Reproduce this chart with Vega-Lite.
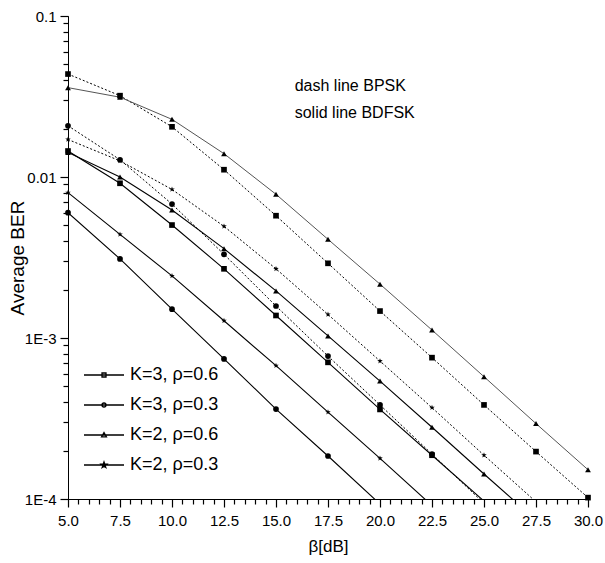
{
  "$schema": "https://vega.github.io/schema/vega-lite/v6.json",
  "width": 520,
  "height": 483,
  "autosize": "none",
  "padding": {"left": 68, "top": 16, "right": 17, "bottom": 64},
  "background": "white",
  "config": {
    "font": "Liberation Sans",
    "view": {"stroke": null},
    "axis": {"domainColor": "black", "tickColor": "black", "labelColor": "black", "titleColor": "black", "grid": false, "labelFont": "Liberation Sans", "titleFont": "Liberation Sans", "titleFontWeight": "normal"}
  },
  "data": {"values": [
    {"beta": 5, "ber": 0.0436, "series": "K=3, ρ=0.6", "mod": "BPSK"},
    {"beta": 7.5, "ber": 0.032, "series": "K=3, ρ=0.6", "mod": "BPSK"},
    {"beta": 10, "ber": 0.0205, "series": "K=3, ρ=0.6", "mod": "BPSK"},
    {"beta": 12.5, "ber": 0.0111, "series": "K=3, ρ=0.6", "mod": "BPSK"},
    {"beta": 15, "ber": 0.00575, "series": "K=3, ρ=0.6", "mod": "BPSK"},
    {"beta": 17.5, "ber": 0.00291, "series": "K=3, ρ=0.6", "mod": "BPSK"},
    {"beta": 20, "ber": 0.00147, "series": "K=3, ρ=0.6", "mod": "BPSK"},
    {"beta": 22.5, "ber": 0.000755, "series": "K=3, ρ=0.6", "mod": "BPSK"},
    {"beta": 25, "ber": 0.000384, "series": "K=3, ρ=0.6", "mod": "BPSK"},
    {"beta": 27.5, "ber": 0.000197, "series": "K=3, ρ=0.6", "mod": "BPSK"},
    {"beta": 30, "ber": 0.000102, "series": "K=3, ρ=0.6", "mod": "BPSK"},

    {"beta": 5, "ber": 0.0359, "series": "K=2, ρ=0.6", "mod": "BPSK"},
    {"beta": 7.5, "ber": 0.0313, "series": "K=2, ρ=0.6", "mod": "BPSK"},
    {"beta": 10, "ber": 0.0228, "series": "K=2, ρ=0.6", "mod": "BPSK"},
    {"beta": 12.5, "ber": 0.01396, "series": "K=2, ρ=0.6", "mod": "BPSK"},
    {"beta": 15, "ber": 0.00781, "series": "K=2, ρ=0.6", "mod": "BPSK"},
    {"beta": 17.5, "ber": 0.0041, "series": "K=2, ρ=0.6", "mod": "BPSK"},
    {"beta": 20, "ber": 0.00216, "series": "K=2, ρ=0.6", "mod": "BPSK"},
    {"beta": 22.5, "ber": 0.00112, "series": "K=2, ρ=0.6", "mod": "BPSK"},
    {"beta": 25, "ber": 0.000575, "series": "K=2, ρ=0.6", "mod": "BPSK"},
    {"beta": 27.5, "ber": 0.000294, "series": "K=2, ρ=0.6", "mod": "BPSK"},
    {"beta": 30, "ber": 0.000152, "series": "K=2, ρ=0.6", "mod": "BPSK"},

    {"beta": 5, "ber": 0.0208, "series": "K=3, ρ=0.3", "mod": "BPSK"},
    {"beta": 7.5, "ber": 0.0128, "series": "K=3, ρ=0.3", "mod": "BPSK"},
    {"beta": 10, "ber": 0.00679, "series": "K=3, ρ=0.3", "mod": "BPSK"},
    {"beta": 12.5, "ber": 0.00331, "series": "K=3, ρ=0.3", "mod": "BPSK"},
    {"beta": 15, "ber": 0.00158, "series": "K=3, ρ=0.3", "mod": "BPSK"},
    {"beta": 17.5, "ber": 0.000772, "series": "K=3, ρ=0.3", "mod": "BPSK"},
    {"beta": 20, "ber": 0.000384, "series": "K=3, ρ=0.3", "mod": "BPSK"},
    {"beta": 22.5, "ber": 0.00019, "series": "K=3, ρ=0.3", "mod": "BPSK"},
    {"beta": 25, "ber": 0.000094, "series": "K=3, ρ=0.3", "mod": "BPSK"},

    {"beta": 5, "ber": 0.0171, "series": "K=2, ρ=0.3", "mod": "BPSK"},
    {"beta": 7.5, "ber": 0.0126, "series": "K=2, ρ=0.3", "mod": "BPSK"},
    {"beta": 10, "ber": 0.00837, "series": "K=2, ρ=0.3", "mod": "BPSK"},
    {"beta": 12.5, "ber": 0.00494, "series": "K=2, ρ=0.3", "mod": "BPSK"},
    {"beta": 15, "ber": 0.00269, "series": "K=2, ρ=0.3", "mod": "BPSK"},
    {"beta": 17.5, "ber": 0.0014, "series": "K=2, ρ=0.3", "mod": "BPSK"},
    {"beta": 20, "ber": 0.000719, "series": "K=2, ρ=0.3", "mod": "BPSK"},
    {"beta": 22.5, "ber": 0.000369, "series": "K=2, ρ=0.3", "mod": "BPSK"},
    {"beta": 25, "ber": 0.000187, "series": "K=2, ρ=0.3", "mod": "BPSK"},
    {"beta": 27.5, "ber": 0.000096, "series": "K=2, ρ=0.3", "mod": "BPSK"},

    {"beta": 5, "ber": 0.0145, "series": "K=3, ρ=0.6", "mod": "BDFSK"},
    {"beta": 7.5, "ber": 0.00914, "series": "K=3, ρ=0.6", "mod": "BDFSK"},
    {"beta": 10, "ber": 0.00503, "series": "K=3, ρ=0.6", "mod": "BDFSK"},
    {"beta": 12.5, "ber": 0.00269, "series": "K=3, ρ=0.6", "mod": "BDFSK"},
    {"beta": 15, "ber": 0.00138, "series": "K=3, ρ=0.6", "mod": "BDFSK"},
    {"beta": 17.5, "ber": 0.000706, "series": "K=3, ρ=0.6", "mod": "BDFSK"},
    {"beta": 20, "ber": 0.00036, "series": "K=3, ρ=0.6", "mod": "BDFSK"},
    {"beta": 22.5, "ber": 0.000187, "series": "K=3, ρ=0.6", "mod": "BDFSK"},
    {"beta": 25, "ber": 0.000097, "series": "K=3, ρ=0.6", "mod": "BDFSK"},

    {"beta": 5, "ber": 0.0142, "series": "K=2, ρ=0.6", "mod": "BDFSK"},
    {"beta": 7.5, "ber": 0.01, "series": "K=2, ρ=0.6", "mod": "BDFSK"},
    {"beta": 10, "ber": 0.00624, "series": "K=2, ρ=0.6", "mod": "BDFSK"},
    {"beta": 12.5, "ber": 0.00359, "series": "K=2, ρ=0.6", "mod": "BDFSK"},
    {"beta": 15, "ber": 0.00196, "series": "K=2, ρ=0.6", "mod": "BDFSK"},
    {"beta": 17.5, "ber": 0.00103, "series": "K=2, ρ=0.6", "mod": "BDFSK"},
    {"beta": 20, "ber": 0.00054, "series": "K=2, ρ=0.6", "mod": "BDFSK"},
    {"beta": 22.5, "ber": 0.000279, "series": "K=2, ρ=0.6", "mod": "BDFSK"},
    {"beta": 25, "ber": 0.000143, "series": "K=2, ρ=0.6", "mod": "BDFSK"},
    {"beta": 27.5, "ber": 0.000074, "series": "K=2, ρ=0.6", "mod": "BDFSK"},

    {"beta": 5, "ber": 0.008, "series": "K=2, ρ=0.3", "mod": "BDFSK"},
    {"beta": 7.5, "ber": 0.0044, "series": "K=2, ρ=0.3", "mod": "BDFSK"},
    {"beta": 10, "ber": 0.00243, "series": "K=2, ρ=0.3", "mod": "BDFSK"},
    {"beta": 12.5, "ber": 0.00128, "series": "K=2, ρ=0.3", "mod": "BDFSK"},
    {"beta": 15, "ber": 0.000673, "series": "K=2, ρ=0.3", "mod": "BDFSK"},
    {"beta": 17.5, "ber": 0.000346, "series": "K=2, ρ=0.3", "mod": "BDFSK"},
    {"beta": 20, "ber": 0.000179, "series": "K=2, ρ=0.3", "mod": "BDFSK"},
    {"beta": 22.5, "ber": 0.000091, "series": "K=2, ρ=0.3", "mod": "BDFSK"},

    {"beta": 5, "ber": 0.006, "series": "K=3, ρ=0.3", "mod": "BDFSK"},
    {"beta": 7.5, "ber": 0.0031, "series": "K=3, ρ=0.3", "mod": "BDFSK"},
    {"beta": 10, "ber": 0.00151, "series": "K=3, ρ=0.3", "mod": "BDFSK"},
    {"beta": 12.5, "ber": 0.000741, "series": "K=3, ρ=0.3", "mod": "BDFSK"},
    {"beta": 15, "ber": 0.000362, "series": "K=3, ρ=0.3", "mod": "BDFSK"},
    {"beta": 17.5, "ber": 0.000185, "series": "K=3, ρ=0.3", "mod": "BDFSK"},
    {"beta": 20, "ber": 0.000093, "series": "K=3, ρ=0.3", "mod": "BDFSK"}
  ]},
  "layer": [
    {
      "transform": [{"filter": "datum.mod === 'BDFSK'"}],
      "mark": {"type": "line", "clip": true, "color": "black", "strokeWidth": 1.1},
      "encoding": {
        "x": {"field": "beta", "type": "quantitative",
          "scale": {"domain": [5, 30], "nice": false, "zero": false},
          "axis": {"orient": "bottom", "title": null, "labels": false, "ticks": true, "tickSize": 5, "tickWidth": 1.2, "domain": true,
            "values": [5.5,6,6.5,7,8,8.5,9,9.5,10.5,11,11.5,12,13,13.5,14,14.5,15.5,16,16.5,17,18,18.5,19,19.5,20.5,21,21.5,22,23,23.5,24,24.5,25.5,26,26.5,27,28,28.5,29,29.5]}},
        "y": {"field": "ber", "type": "quantitative",
          "scale": {"type": "log", "domain": [0.0001, 0.1], "nice": false},
          "axis": {"orient": "left", "title": null, "labels": false, "ticks": true, "tickSize": 5, "tickWidth": 1.2, "domain": true,
            "values": [0.0002,0.0003,0.0004,0.0005,0.0006,0.0007,0.0008,0.0009,0.002,0.003,0.004,0.005,0.006,0.007,0.008,0.009,0.02,0.03,0.04,0.05,0.06,0.07,0.08,0.09]}},
        "detail": {"field": "series"}
      }
    },
    {
      "transform": [{"filter": "datum.mod === 'BPSK' && datum.series !== 'K=2, ρ=0.6'"}],
      "mark": {"type": "line", "clip": true, "color": "black", "strokeWidth": 1, "strokeDash": [2, 2]},
      "encoding": {
        "x": {"field": "beta", "type": "quantitative",
          "scale": {"domain": [5, 30], "nice": false, "zero": false},
          "axis": {"orient": "bottom", "title": "β[dB]", "titleFontSize": 17, "titlePadding": 10,
            "labelFontSize": 15, "labelPadding": 6, "labelOverlap": false, "labelFlush": false, "tickSize": 8, "tickWidth": 1.2,
            "values": [5, 7.5, 10, 12.5, 15, 17.5, 20, 22.5, 25, 27.5, 30], "format": ".1f"}},
        "y": {"field": "ber", "type": "quantitative",
          "scale": {"type": "log", "domain": [0.0001, 0.1], "nice": false},
          "axis": {"orient": "left", "title": "Average BER", "titleFontSize": 19, "titlePadding": -3,
            "labelFontSize": 15, "labelPadding": 4, "labelOverlap": false, "labelFlush": false, "tickSize": 8, "tickWidth": 1.2,
            "values": [0.0001, 0.001, 0.01, 0.1],
            "labelExpr": "datum.value === 0.1 ? '0.1' : datum.value === 0.01 ? '0.01' : datum.value === 0.001 ? '1E-3' : '1E-4'"}},
        "detail": {"field": "series"}
      }
    },
    {
      "transform": [{"filter": "datum.mod === 'BPSK' && datum.series === 'K=2, ρ=0.6'"}],
      "mark": {"type": "line", "clip": true, "color": "#555555", "strokeWidth": 1},
      "encoding": {
        "x": {"field": "beta", "type": "quantitative", "scale": {"domain": [5, 30], "nice": false, "zero": false}, "axis": null},
        "y": {"field": "ber", "type": "quantitative", "scale": {"type": "log", "domain": [0.0001, 0.1], "nice": false}, "axis": null},
        "detail": {"field": "series"}
      }
    },
    {
      "transform": [{"filter": "datum.ber >= 0.0001"}],
      "mark": {"type": "point", "filled": true, "color": "black", "opacity": 1},
      "encoding": {
        "x": {"field": "beta", "type": "quantitative", "scale": {"domain": [5, 30], "nice": false, "zero": false}, "axis": null},
        "y": {"field": "ber", "type": "quantitative", "scale": {"type": "log", "domain": [0.0001, 0.1], "nice": false}, "axis": null},
        "shape": {"field": "series", "type": "nominal",
          "scale": {"domain": ["K=3, ρ=0.6", "K=3, ρ=0.3", "K=2, ρ=0.6", "K=2, ρ=0.3"],
            "range": ["square", "circle", "triangle-up", "M0,-1L0.235,-0.324L0.951,-0.309L0.38,0.124L0.588,0.809L0,0.4L-0.588,0.809L-0.38,0.124L-0.951,-0.309L-0.235,-0.324Z"]},
          "legend": null},
        "size": {"field": "series", "type": "nominal",
          "scale": {"domain": ["K=3, ρ=0.6", "K=3, ρ=0.3", "K=2, ρ=0.6", "K=2, ρ=0.3"], "range": [32, 34, 46, 72]},
          "legend": null}
      }
    },
    {
      "transform": [{"filter": "false"}],
      "mark": {"type": "point", "filled": false, "color": "black", "strokeWidth": 1.3, "size": 1600, "opacity": 1},
      "encoding": {
        "x": {"field": "beta", "type": "quantitative", "scale": {"domain": [5, 30], "nice": false, "zero": false}, "axis": null},
        "y": {"field": "ber", "type": "quantitative", "scale": {"type": "log", "domain": [0.0001, 0.1], "nice": false}, "axis": null},
        "shape": {"field": "series", "type": "nominal",
          "scale": {"domain": ["K=3, ρ=0.6", "K=3, ρ=0.3", "K=2, ρ=0.6", "K=2, ρ=0.3"],
            "range": [
              "M-1,0H1M-0.1,-0.1H0.1V0.1H-0.1Z",
              "M-1,0H1M0.1,0A0.1,0.1 0 1 1 -0.1,0A0.1,0.1 0 1 1 0.1,0Z",
              "M-1,0H1M0,-0.12L0.12,0.09L-0.12,0.09Z",
              "M-1,0H1M0,-0.15L0.035,-0.049L0.143,-0.046L0.057,0.019L0.088,0.121L0,0.06L-0.088,0.121L-0.057,0.019L-0.143,-0.046L-0.035,-0.049Z"
            ]},
          "legend": {
            "title": null, "orient": "none", "legendX": 15, "legendY": 338,
            "symbolSize": 1600, "symbolFillColor": "black", "symbolStrokeColor": "black", "symbolStrokeWidth": 1.3, "symbolOpacity": 1,
            "labelFontSize": 18, "labelFont": "Liberation Sans", "labelColor": "black", "labelOffset": 5,
            "rowPadding": -16, "padding": 0, "labelLimit": 300
          }
        }
      }
    },
    {
      "data": {"values": [{}]},
      "mark": {"type": "text", "align": "left", "baseline": "middle", "fontSize": 16, "lineHeight": 27, "font": "Liberation Sans", "color": "black",
        "text": ["dash line BPSK", "solid line BDFSK"]},
      "encoding": {
        "x": {"datum": 15.9, "type": "quantitative", "scale": {"domain": [5, 30], "nice": false, "zero": false}, "axis": null},
        "y": {"datum": 0.0365, "type": "quantitative", "scale": {"type": "log", "domain": [0.0001, 0.1], "nice": false}, "axis": null}
      }
    }
  ],
  "resolve": {"scale": {"x": "independent", "y": "independent", "shape": "independent", "size": "independent"}, "legend": {"shape": "independent"}, "axis": {"x": "independent", "y": "independent"}}
}
